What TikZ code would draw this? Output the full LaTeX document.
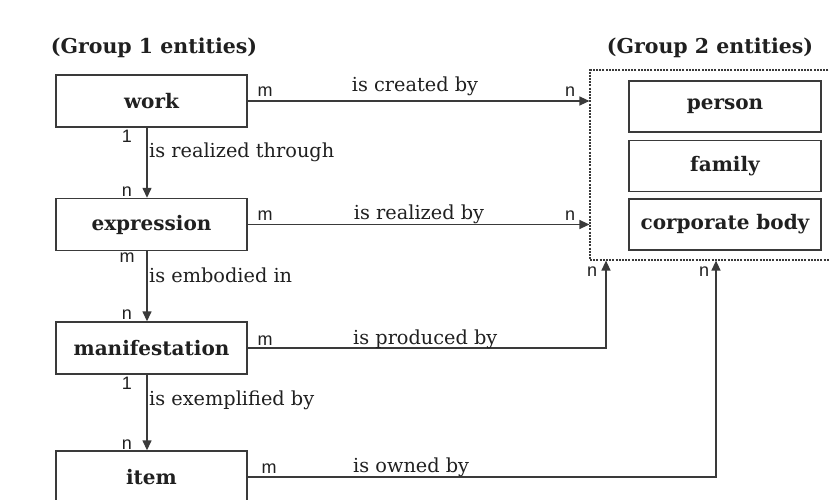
\documentclass[tikz,border=0pt]{standalone}
\usepackage{fontspec}
\setmainfont{DejaVu Serif}
\newfontfamily\lblsans{Liberation Sans}
\usetikzlibrary{arrows.meta,calc}
\definecolor{linec}{HTML}{3A3A3A}
\definecolor{txtc}{HTML}{202020}
\begin{document}
\begin{tikzpicture}[x=1pt,y=1pt,
  ent/.style={draw=linec, line width=1.4pt, minimum width=191pt, minimum height=52pt, inner sep=0pt, font=\fontsize{20}{20}\selectfont\bfseries, text=txtc},
  grp/.style={font=\fontsize{20.5}{20.5}\selectfont\bfseries, text=txtc, inner sep=0pt},
  rel/.style={font=\fontsize{19.3}{19.3}\selectfont, text=txtc, inner sep=0pt},
  card/.style={font=\lblsans\fontsize{18}{18}\selectfont, text=txtc, inner sep=0pt},
  conn/.style={draw=linec, line width=1.4pt},
  arr/.style={conn, -{Triangle[length=10pt,width=9pt]}},
  dbox/.style={draw=linec, line width=1.2pt, dash pattern=on 2pt off 1.2pt, minimum width=245pt, minimum height=190pt, inner sep=0pt},
]
\useasboundingbox (0,0) rectangle (829,499);
\fill[white] (0,0) rectangle (829,499);
\clip (0,0) rectangle (829,499);

% group labels
\node[grp] (g1lbl) at (154,451) {(Group 1 entities)};
\node[grp] (g2lbl) at (710,451) {(Group 2 entities)};

% group 1 entities
\node[ent] (work) at (151.5,398) {work};
\node[ent] (expr) at (151.5,274.5) {expression};
\node[ent] (manif) at (151.5,151) {manifestation};
\node[ent] (item) at (151.5,22) {item};

% group 2 entities
\node[dbox] (g2) at (712.5,334) {};
\node[ent, minimum width=192pt, minimum height=51pt] (person) at (725,392.5) {person};
\node[ent, minimum width=192pt, minimum height=51pt] (family) at (725,333) {family};
\node[ent, minimum width=192pt, minimum height=51pt] (corp) at (725,274.5) {corporate body};

% helper x positions
\coordinate (vx) at (147,0);
\coordinate (px) at (606,0);
\coordinate (ox) at (716,0);

% vertical arrows
\draw[arr] (work.south -| vx) -- (expr.north -| vx);
\draw[arr] (expr.south -| vx) -- (manif.north -| vx);
\draw[arr] (manif.south -| vx) -- (item.north -| vx);

% horizontal arrows
\draw[arr] (work.east) -- (work.east -| g2.west);
\draw[arr] (expr.east) -- (expr.east -| g2.west);
\draw[arr] (manif.east) -| (g2.south -| px);
\draw[arr] (item.east) -| (g2.south -| ox);

% relation labels
\node[rel, anchor=west] (l1) at (149,347) {is realized through};
\node[rel, anchor=west] (l2) at (149,224) {is embodied in};
\node[rel, anchor=west] (l3) at (149,99) {is exemplified by};
\node[rel] (l4) at (415,413) {is created by};
\node[rel] (l5) at (419,285) {is realized by};
\node[rel, anchor=west] (l6) at (353,160) {is produced by};
\node[rel, anchor=west] (l7) at (353,32) {is owned by};

% cardinalities
\node[card] (c1) at (265,407) {m};
\node[card] (c2) at (570,407) {n};
\node[card] (c3) at (265,283) {m};
\node[card] (c4) at (570,283) {n};
\node[card] (c5) at (265,158) {m};
\node[card] (c6) at (269,30) {m};
\node[card] (c7) at (592,227) {n};
\node[card] (c8) at (704,227) {n};
\node[card] (c9) at (127,363) {1};
\node[card] (c10) at (127,307) {n};
\node[card] (c11) at (127,241) {m};
\node[card] (c12) at (127,184) {n};
\node[card] (c13) at (127,116) {1};
\node[card] (c14) at (127,54) {n};
\end{tikzpicture}
\end{document}
